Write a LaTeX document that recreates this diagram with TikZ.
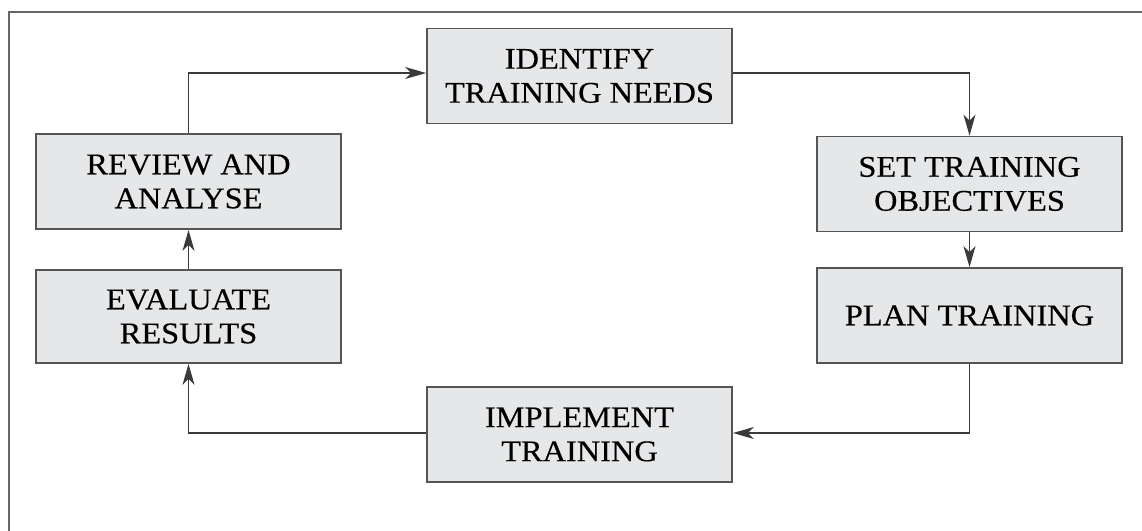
\documentclass[tikz,border=0pt]{standalone}
\usepackage{fontspec}
\setmainfont{Liberation Serif}[FakeStretch=1.08,FakeBold=0.4]
\usetikzlibrary{arrows.meta}
\definecolor{boxfill}{HTML}{E6E7E8}
\definecolor{boxline}{HTML}{555555}
\definecolor{conn}{HTML}{3A3A3A}
\begin{document}
\begin{tikzpicture}[x=1pt,y=-1pt,
  stepbox/.style={draw=boxline, line width=1.8pt, fill=boxfill, minimum width=305pt,
    minimum height=95pt, inner sep=0pt, align=center, text=black,
    font=\fontsize{30}{34}\selectfont},
  flow/.style={draw=conn, line width=1.5pt, -{Stealth[length=21pt,width=12pt,inset=6pt]}}]
\useasboundingbox (0,0) rectangle (1142,530);
\draw[color=black!60, line width=2pt] (9,540) -- (9,12) -- (1150,12);
\node[stepbox] (identify) at (579.5,76) {IDENTIFY\\TRAINING NEEDS};
\node[stepbox] (review) at (188.5,181.5) {REVIEW AND\\ANALYSE};
\node[stepbox, minimum height=93pt] (evaluate) at (188.5,316.5) {EVALUATE\\RESULTS};
\node[stepbox] (settrain) at (969.5,184) {SET TRAINING\\OBJECTIVES};
\node[stepbox] (plan) at (969.5,315.5) {PLAN TRAINING};
\node[stepbox] (implement) at (579.5,434.5) {IMPLEMENT\\TRAINING};
\coordinate (c1) at (188.5,73);
\coordinate (c2) at (969.5,73);
\coordinate (c3) at (969.5,433);
\coordinate (c4) at (188.5,433);
\draw[flow] (review.north) -- (c1) -- (c1 -| identify.west);
\draw[flow] (c2 -| identify.east) -- (c2) -- (settrain.north);
\draw[flow] (settrain.south) -- (plan.north);
\draw[flow] (plan.south) -- (c3) -- (c3 -| implement.east);
\draw[flow] (c4 -| implement.west) -- (c4) -- (evaluate.south);
\draw[flow] (evaluate.north) -- (review.south);
\end{tikzpicture}
\end{document}
